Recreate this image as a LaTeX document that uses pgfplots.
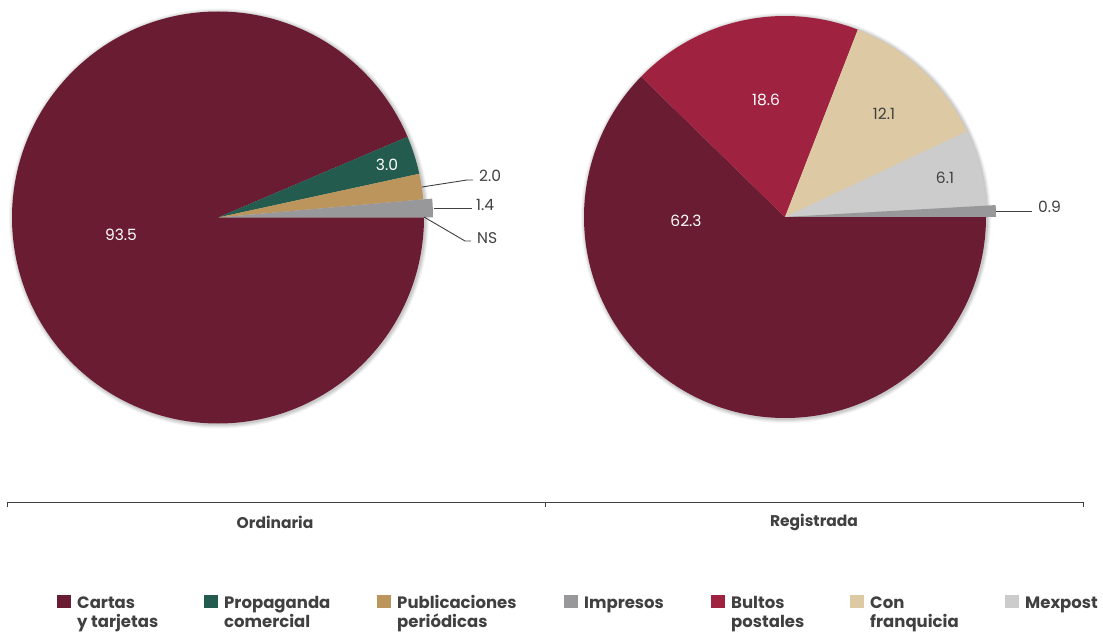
\documentclass[border=0pt]{standalone}
\usepackage{pgfplots}
\usepackage{pgfplotstable}
\pgfplotsset{compat=1.18}
\usepackage{fontspec}
\setmainfont{Poppins}
\definecolor{cartas}{HTML}{691C32}
\definecolor{propaganda}{HTML}{235B4E}
\definecolor{publicaciones}{HTML}{BC955C}
\definecolor{impresos}{HTML}{98989A}
\definecolor{bultos}{HTML}{9F2241}
\definecolor{franquicia}{HTML}{DDC9A3}
\definecolor{mexpost}{HTML}{CCCCCC}
\definecolor{txt}{HTML}{404040}

% value, colour, extra radius (exploded slice)
\pgfplotstableread{
value color explode
93.5 cartas 0
3.0 propaganda 0
2.0 publicaciones 0
1.4 impresos 9
}\ordinaria
\pgfplotstableread{
value color explode
62.3 cartas 0
18.6 bultos 0
12.1 franquicia 0
6.1 mexpost 0
0.9 impresos 10
}\registrada

\newcommand\drawpie[4]{% table, cx, cy, r
  \gdef\pietotal{0}%
  \pgfplotstableforeachcolumnelement{value}\of#1\as\v{%
    \pgfmathsetmacro\t{\pietotal+\v}\xdef\pietotal{\t}}%
  % soft shadow
  \foreach \k/\o in {4/0.04,3/0.05,2/0.06,1/0.08}{%
    \fill[black,opacity=\o] (axis cs:#2+1,#3-1) circle[radius=#4 pt+\k pt];}%
  \gdef\piecum{0}%
  \pgfplotstableforeachcolumnelement{value}\of#1\as\v{%
    \pgfplotstablegetelem{\pgfplotstablerow}{color}\of#1\xdef\c{\pgfplotsretval}%
    \pgfplotstablegetelem{\pgfplotstablerow}{explode}\of#1\xdef\e{\pgfplotsretval}%
    \pgfmathsetmacro\a{-\piecum/\pietotal*360}%
    \pgfmathsetmacro\b{-(\piecum+\v)/\pietotal*360}%
    \pgfmathsetmacro\rr{#4+\e}%
    \fill[\c] (axis cs:#2,#3) -- ++(\a:\rr pt) arc[start angle=\a, end angle=\b, radius=\rr pt] -- cycle;%
    \pgfmathsetmacro\t{\piecum+\v}\xdef\piecum{\t}%
  }%
}

\begin{document}
\begin{tikzpicture}
\begin{axis}[scale only axis, width=1103pt, height=633pt,
  xmin=0, xmax=1103, ymin=-633, ymax=0, hide axis, clip=false]
\pgfplotsextra{%
  \path (axis cs:0,0) (axis cs:1103,-633);
  \drawpie{\ordinaria}{218}{-217.5}{206}
  \drawpie{\registrada}{785}{-217}{201}
  \begingroup
  \fontsize{15.5}{18}\selectfont
  % inner labels
  \node[white] at (axis cs:121,-235) {93.5};
  \node[white] at (axis cs:387,-165) {3.0};
  \node[white] at (axis cs:686,-221) {62.3};
  \node[white] at (axis cs:766,-100) {18.6};
  \node[txt] at (axis cs:884,-114) {12.1};
  \node[txt] at (axis cs:945,-178) {6.1};
  % leader lines
  \draw[txt, line width=0.9pt] (axis cs:422,-187) -- (axis cs:467,-180) -- (axis cs:473,-180);
  \draw[txt, line width=0.9pt] (axis cs:434,-208) -- (axis cs:472,-208);
  \draw[txt, line width=0.9pt] (axis cs:424,-217) -- (axis cs:465,-241) -- (axis cs:471,-241);
  \draw[txt, line width=0.9pt] (axis cs:996,-211) -- (axis cs:1032,-211);
  \node[txt, anchor=west, inner sep=0pt] at (axis cs:479,-176) {2.0};
  \node[txt, anchor=west, inner sep=0pt] at (axis cs:476,-205) {1.4};
  \node[txt, anchor=west, inner sep=0pt] at (axis cs:477,-238) {NS};
  \node[txt, anchor=west, inner sep=0pt] at (axis cs:1038,-207) {0.9};
  \endgroup
  % category axis below
  \draw[txt, line width=1pt] (axis cs:7,-507) -- (axis cs:7,-502) -- (axis cs:1083,-502) -- (axis cs:1083,-507);
  \draw[txt, line width=1pt] (axis cs:545,-502) -- (axis cs:545,-507);
  \node[txt, font=\fontsize{15.5}{18}\selectfont\bfseries] at (axis cs:275,-522) {Ordinaria};
  \node[txt, font=\fontsize{15.5}{18}\selectfont\bfseries] at (axis cs:814,-522) {Registrada};
  % legend
  \foreach \x/\c/\t/\u in {57/cartas/Cartas/y tarjetas,204/propaganda/Propaganda/comercial,377/publicaciones/Publicaciones/periódicas,564/impresos/Impresos/,711/bultos/Bultos/postales,850/franquicia/Con/franquicia,1005/mexpost/Mexpost/}{%
    \fill[\c] (axis cs:\x,-595) rectangle (axis cs:\x+14,-608);
    \node[txt, anchor=base west, inner sep=0pt, font=\fontsize{16.5}{20}\selectfont\bfseries] at (axis cs:\x+20,-608) {\t};
    \node[txt, anchor=base west, inner sep=0pt, font=\fontsize{16.5}{20}\selectfont\bfseries] at (axis cs:\x+20,-627) {\u};
  }
}
\end{axis}
\end{tikzpicture}
\end{document}
